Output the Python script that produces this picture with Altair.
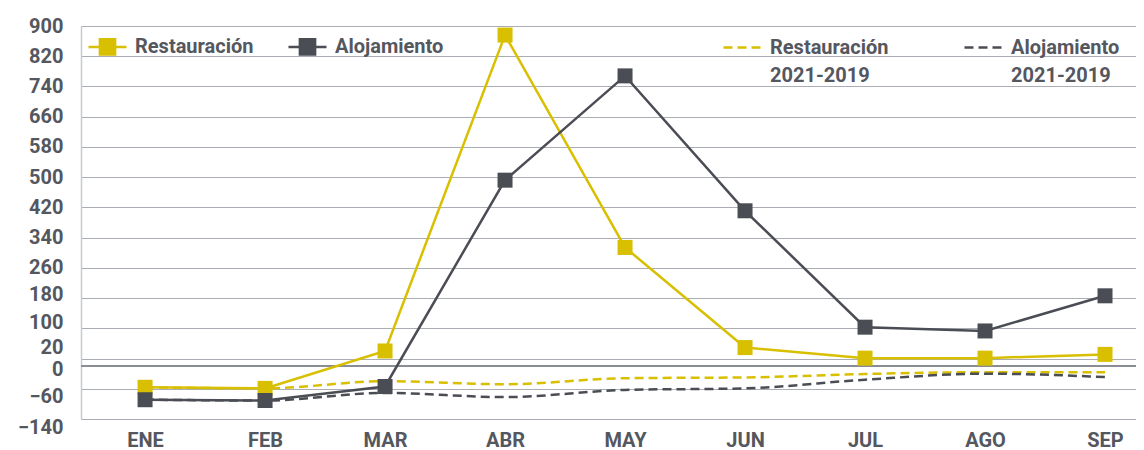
import altair as alt
import pandas as pd

meses = ["ENE", "FEB", "MAR", "ABR", "MAY", "JUN", "JUL", "AGO", "SEP"]
restauracion = [-56, -59, 40, 876, 314, 49, 21, 21, 31]
alojamiento = [-89, -91, -54, 492, 768, 411, 103, 93, 186]
rest_2119 = [-56, -59, -40, -48, -32, -30, -21, -16, -16]
aloj_2119 = [-89, -91, -71, -82, -63, -59, -36, -20, -29]
y_ticks = [900, 820, 740, 660, 580, 500, 420, 340, 260, 180, 100, 20, 0, -60, -140]

YELLOW = "#d8bf00"
DARK = "#4b4d55"
TEXT = "#55575f"
FONT = "Roboto"
FW = "bold"

solid = pd.DataFrame(
    [{"mes": m, "serie": "Restauración", "valor": v} for m, v in zip(meses, restauracion)]
    + [{"mes": m, "serie": "Alojamiento", "valor": v} for m, v in zip(meses, alojamiento)]
)
dashed = pd.DataFrame(
    [{"mes": m, "serie": "Restauración|2021-2019", "valor": v} for m, v in zip(meses, rest_2119)]
    + [{"mes": m, "serie": "Alojamiento|2021-2019", "valor": v} for m, v in zip(meses, aloj_2119)]
)
zero = pd.DataFrame({"valor": [0]})

x_enc = alt.X("mes:O", sort=meses,
              scale=alt.Scale(type="point", padding=0.396, align=0.674),
              axis=alt.Axis(title=None, labelAngle=0, domain=False, ticks=False, grid=False,
                            labelPadding=11, labelFontSize=20, labelColor=TEXT, labelFont=FONT,
                            labelFontWeight=FW))
y_scale = alt.Scale(domain=[-140, 900], nice=False, zero=False)
y_enc = alt.Y("valor:Q", scale=y_scale,
              axis=alt.Axis(title=None, values=y_ticks, tickCount=30, grid=True, gridColor="#abadb5",
                            gridWidth=1.2, domain=True, domainColor="#c8c9ce", domainWidth=1.5,
                            ticks=False, labelPadding=18, labelFontSize=20, labelColor=TEXT,
                            labelFont=FONT, labelFontWeight=FW, labelOverlap=False,
                            labelOffset={"condition": [
                                {"test": "datum.value == 180", "value": -4},
                                {"test": "datum.value == 100", "value": -6},
                                {"test": "datum.value == 20", "value": -11},
                                {"test": "datum.value == 0", "value": 3},
                                {"test": "datum.value == -60", "value": 8},
                                {"test": "datum.value == -140", "value": 8}],
                                "value": 0}))

color_solid = alt.Color(
    "serie:N",
    scale=alt.Scale(domain=["Restauración", "Alojamiento"], range=[YELLOW, DARK]),
    legend=alt.Legend(title=None, orient="none", legendX=6, legendY=0, direction="horizontal",
                      symbolType="M-1,0L-0.4,0M0.4,0L1,0M-0.4,-0.4L0.4,-0.4L0.4,0.4L-0.4,0.4Z",
                      symbolSize=1444, symbolStrokeWidth=2.5, labelOffset=7, columnPadding=29,
                      labelFontSize=20, labelColor=TEXT, labelFont=FONT, labelFontWeight=FW),
)
color_dash = alt.Color(
    "serie:N",
    scale=alt.Scale(domain=["Restauración|2021-2019", "Alojamiento|2021-2019"], range=[YELLOW, DARK]),
    legend=alt.Legend(title=None, orient="none", legendX=641, legendY=1.5, direction="horizontal",
                      symbolType="stroke", symbolDash=[9, 5], symbolSize=1369,
                      symbolStrokeWidth=2.5, labelOffset=8, columnPadding=70,
                      labelExpr="split(datum.label, '|')", labelBaseline="middle",
                      labelFontSize=20, labelColor=TEXT, labelFont=FONT, labelFontWeight=FW),
)

zero_line = alt.Chart(zero).mark_rule(color="#8a8c96", strokeWidth=2).encode(y=alt.Y("valor:Q", scale=y_scale))

lines = alt.Chart(solid).mark_line(strokeWidth=2.5).encode(x=x_enc, y=y_enc, color=color_solid)
points = alt.Chart(solid).mark_square(size=225, opacity=1).encode(x=x_enc, y=y_enc, color=color_solid)
dlines = alt.Chart(dashed).mark_line(strokeWidth=2.5, strokeDash=[9, 5], interpolate="monotone").encode(
    x=x_enc, y=y_enc, color=color_dash)

chart = alt.layer(zero_line, dlines, alt.layer(lines, points)).resolve_scale(color="independent").properties(
    width=1055, height=393,
    autosize=alt.AutoSizeParams(type="none"),
    padding={"left": 73, "top": 18, "right": 0, "bottom": 34},
).configure_view(stroke="transparent").configure(style={"guide-label": {"lineHeight": 28}})

chart.save("out.html", embed_options={"renderer": "svg", "actions": False})
